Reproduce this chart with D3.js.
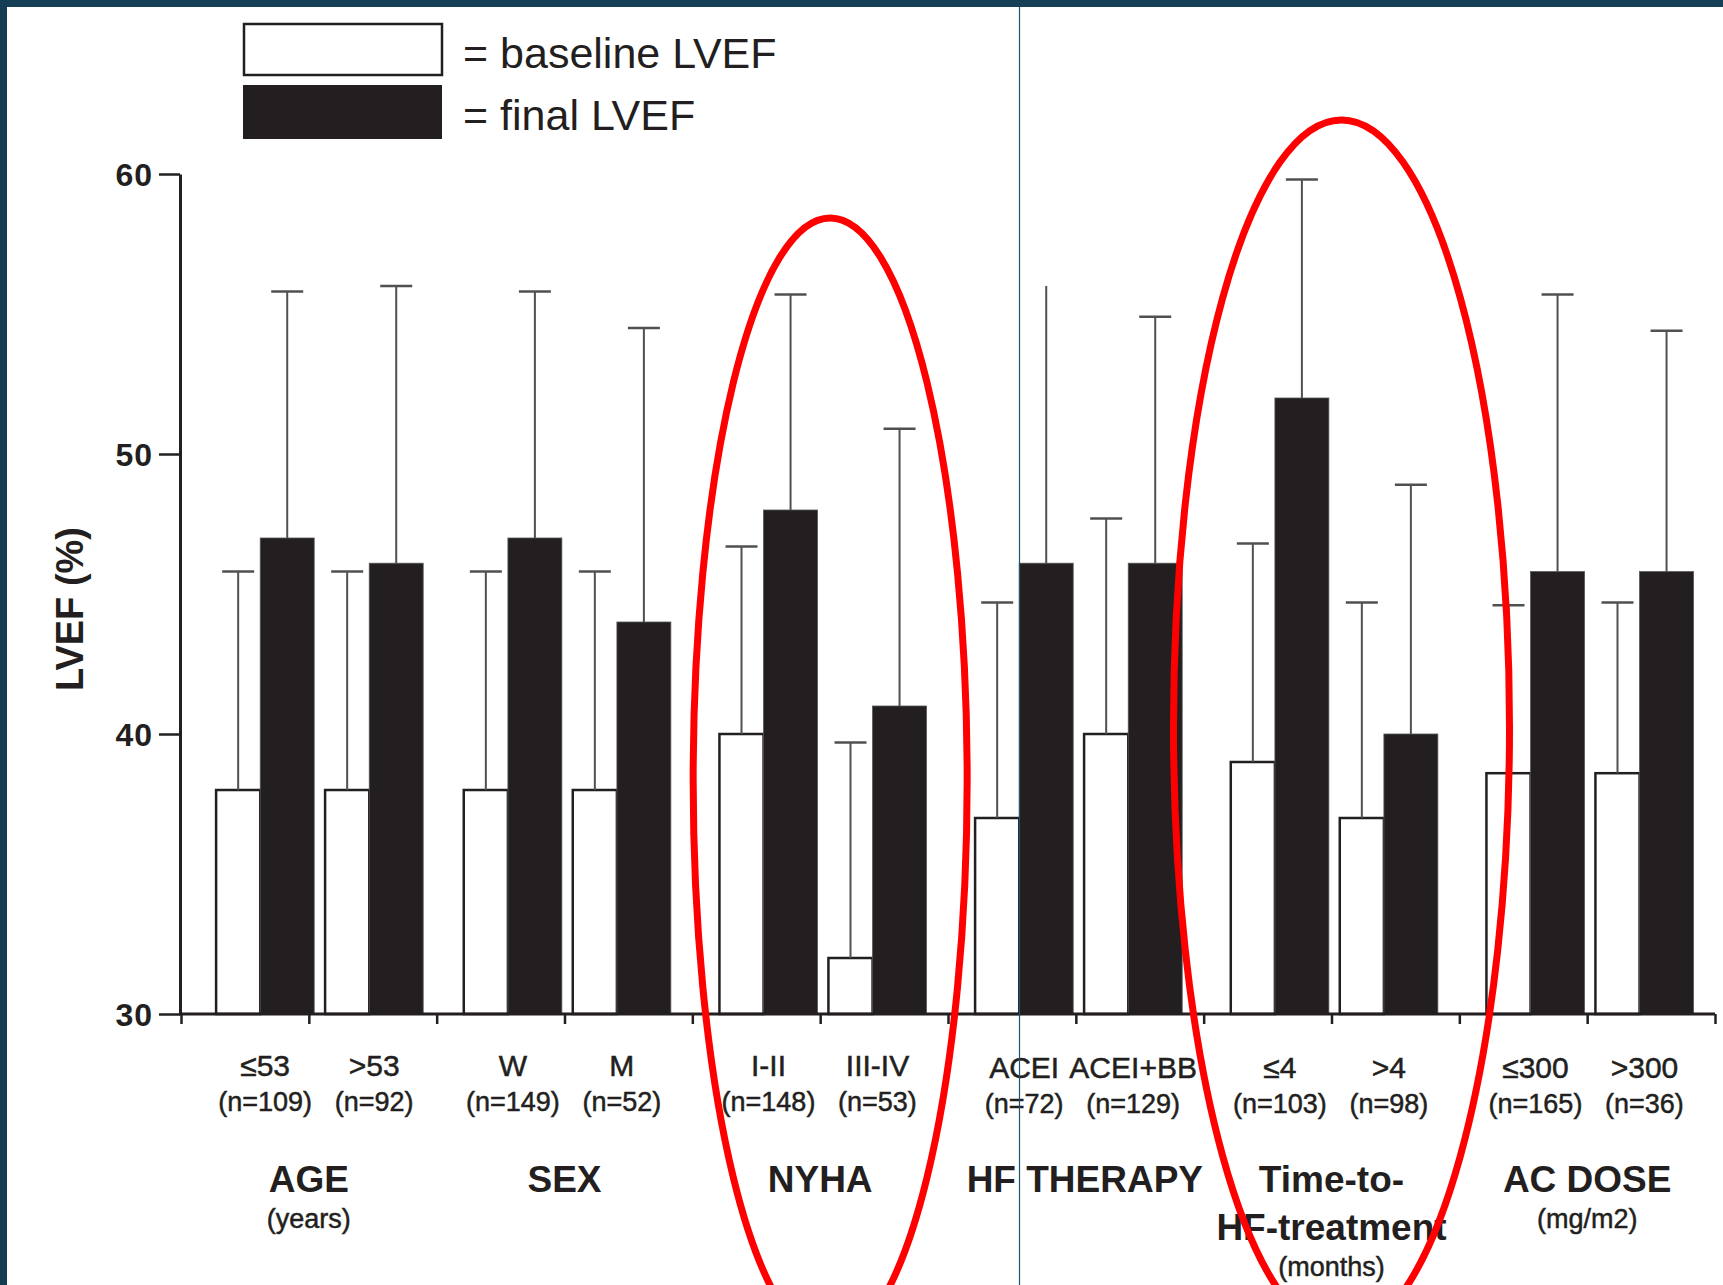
<!DOCTYPE html>
<html>
<head>
<meta charset="utf-8">
<script src="https://cdn.jsdelivr.net/npm/d3@7"></script>
<style>
  html, body { margin: 0; padding: 0; background: #fff; }
  svg { display: block; }
  text { font-family: "Liberation Sans", Arial, Helvetica, sans-serif; }
  .medium { stroke: #231f20; stroke-width: 0.5px; }
</style>
</head>
<body>
<svg id="chart" width="1723" height="1285"></svg>
<script>
// ---- data ----
const groups = ["AGE", "SEX", "NYHA", "HF THERAPY", "Time-to-HF-treatment", "AC DOSE"];
const groupTitleLines = [["AGE"], ["SEX"], ["NYHA"], ["HF THERAPY"], ["Time-to-", "HF-treatment"], ["AC DOSE"]];
const groupUnits = ["(years)", "", "", "", "(months)", "(mg/m2)"];

const categories = ["≤53", ">53", "W", "M", "I-II", "III-IV", "ACEI", "ACEI+BB", "≤4", ">4", "≤300", ">300"];
const sampleSizes = ["(n=109)", "(n=92)", "(n=149)", "(n=52)", "(n=148)", "(n=53)", "(n=72)", "(n=129)", "(n=103)", "(n=98)", "(n=165)", "(n=36)"];
const categoryGroup = [0, 0, 1, 1, 2, 2, 3, 3, 4, 4, 5, 5];

const baselineLVEF = [38, 38, 38, 38, 40, 32, 37, 40, 39, 37, 38.6, 38.6];
const baselineSD   = [7.8, 7.8, 7.8, 7.8, 6.7, 7.7, 7.7, 7.7, 7.8, 7.7, 6.0, 6.1];
const finalLVEF    = [47, 46.1, 47, 44, 48, 41, 46.1, 46.1, 52, 40, 45.8, 45.8];
const finalSD      = [8.8, 9.9, 8.8, 10.5, 7.7, 9.9, 9.9, 8.8, 7.8, 8.9, 9.9, 8.6];
const uncappedFinal = ["ACEI"];          // whisker printed without a cap

const yTicks = [30, 40, 50, 60];
const yLabel = "LVEF (%)";
const legendLabels = ["= baseline LVEF", "= final LVEF"];
const highlightedGroups = ["NYHA", "Time-to-HF-treatment"];

// ---- layout ----
const W = 1723, H = 1285;
const ink = "#231f20";
const whisker = "#505050";
const svg = d3.select("#chart");

svg.append("rect").attr("width", W).attr("height", H).attr("fill", "#fff");

const plot = { left: 181, right: 1715, top: 174, bottom: 1014 };

const y = d3.scaleLinear().domain([30, 60]).range([plot.bottom, plot.top]);
const xGroup = d3.scaleBand().domain(groups).range([plot.left, plot.right]).padding(0);
const gw = xGroup.bandwidth();
const xPair = d3.scaleBand().domain([0, 1]).range([gw * 0.106, gw * 0.916]).paddingInner(0.1);
const pw = xPair.bandwidth();
const whiteW = pw * 0.45, blackW = pw - whiteW;
// the first group sits a little further from the axis
const groupNudge = { "AGE": 8 };
const titleNudge = { "HF THERAPY": 9 };

// slot of each category within its group
const slotCount = {};
const rows = categories.map((c, i) => {
  const g = groups[categoryGroup[i]];
  slotCount[g] = (slotCount[g] || 0);
  const slot = slotCount[g]++;
  const x0 = xGroup(g) + xPair(slot) + (groupNudge[g] || 0);
  return {
    cat: c, n: sampleSizes[i], group: g, x0,
    base: baselineLVEF[i], baseSD: baselineSD[i],
    fin: finalLVEF[i], finSD: finalSD[i]
  };
});

const chart = svg.append("g");

// baseline bars (white)
chart.selectAll("rect.base").data(rows).join("rect")
  .attr("class", "base")
  .attr("x", d => d.x0)
  .attr("y", d => y(d.base))
  .attr("width", whiteW)
  .attr("height", d => y(30) - y(d.base))
  .attr("fill", "#fff")
  .attr("stroke", ink)
  .attr("stroke-width", 2.5);

// final bars (black)
chart.selectAll("rect.fin").data(rows).join("rect")
  .attr("class", "fin")
  .attr("x", d => d.x0 + whiteW)
  .attr("y", d => y(d.fin))
  .attr("width", blackW)
  .attr("height", d => y(30) - y(d.fin))
  .attr("fill", ink)
  .attr("stroke", "#555")
  .attr("stroke-width", 0.8);

// whiskers (mean + SD)
const whiskers = [];
rows.forEach(d => {
  whiskers.push({ cx: d.x0 + whiteW / 2, from: d.base, to: d.base + d.baseSD, cap: true });
  whiskers.push({ cx: d.x0 + whiteW + blackW / 2, from: d.fin, to: d.fin + d.finSD, cap: !uncappedFinal.includes(d.cat) });
});
const wg = chart.append("g");
wg.selectAll("line.stem").data(whiskers).join("line")
  .attr("class", "stem")
  .attr("x1", d => d.cx).attr("x2", d => d.cx)
  .attr("y1", d => y(d.from)).attr("y2", d => y(d.to))
  .attr("stroke", whisker).attr("stroke-width", 2);
wg.selectAll("line.cap").data(whiskers.filter(d => d.cap)).join("line")
  .attr("class", "cap")
  .attr("x1", d => d.cx - 16).attr("x2", d => d.cx + 16)
  .attr("y1", d => y(d.to)).attr("y2", d => y(d.to))
  .attr("stroke", whisker).attr("stroke-width", 2.5);

// x axis: plain ticks at every category boundary
const xTick = d3.scaleLinear().domain([0, categories.length]).range([plot.left, plot.right]);
const xAxis = svg.append("g")
  .attr("transform", `translate(0,${plot.bottom})`)
  .call(d3.axisBottom(xTick).tickValues(d3.range(categories.length + 1)).tickSize(10).tickSizeOuter(0).tickFormat(""));
xAxis.select(".domain").attr("stroke", ink).attr("stroke-width", 3).attr("d", `M${plot.left - 2},0H${plot.right}`);
xAxis.selectAll(".tick line").attr("stroke", ink).attr("stroke-width", 2.5);

// y axis
const yAxis = svg.append("g")
  .attr("transform", `translate(${plot.left - 1},0)`)
  .call(d3.axisLeft(y).tickValues(yTicks).tickSize(21).tickSizeOuter(0).tickPadding(6));
yAxis.select(".domain").attr("stroke", ink).attr("stroke-width", 3);
yAxis.selectAll(".tick line").attr("stroke", ink).attr("stroke-width", 2.5);
yAxis.selectAll(".tick text")
  .attr("fill", ink)
  .style("font-family", "\"Liberation Sans\", Arial, sans-serif")
  .style("font-size", "32px").style("font-weight", "bold")
  .style("letter-spacing", "1px")
  .attr("dy", "0.36em");

svg.append("text")
  .attr("transform", "translate(83,609) rotate(-90)")
  .attr("text-anchor", "middle")
  .attr("fill", ink)
  .style("font-size", "38px").style("font-weight", "bold")
  .text(yLabel);

// category labels
const catG = svg.append("g").attr("fill", ink).attr("text-anchor", "middle");
catG.selectAll("text.cat").data(rows).join("text")
  .attr("class", "cat medium")
  .attr("x", d => d.x0 + pw / 2)
  .attr("y", (d, i) => 1076 + (i >= 6 ? 2 : 0))
  .style("font-size", "30px")
  .text(d => d.cat);
catG.selectAll("text.n").data(rows).join("text")
  .attr("class", "n medium")
  .attr("x", d => d.x0 + pw / 2)
  .attr("y", (d, i) => 1111 + (i >= 6 ? 2 : 0))
  .style("font-size", "27px")
  .text(d => d.n);

// group titles
groups.forEach((g, i) => {
  const cx = xGroup(g) + gw / 2 + (titleNudge[g] || 0);
  const lines = groupTitleLines[i];
  lines.forEach((t, k) => {
    svg.append("text")
      .attr("x", cx).attr("y", 1192 + k * 48)
      .attr("text-anchor", "middle").attr("fill", ink)
      .style("font-size", "37px").style("font-weight", "bold")
      .text(t);
  });
  if (groupUnits[i]) {
    svg.append("text")
      .attr("class", "medium")
      .attr("x", cx).attr("y", 1192 + (lines.length - 1) * 48 + 36)
      .attr("text-anchor", "middle").attr("fill", ink)
      .style("font-size", "27px")
      .text(groupUnits[i]);
  }
});

// legend
const legend = svg.append("g");
legend.append("rect").attr("x", 244).attr("y", 24).attr("width", 198).attr("height", 51)
  .attr("fill", "#fff").attr("stroke", ink).attr("stroke-width", 2.5);
legend.append("rect").attr("x", 243).attr("y", 85).attr("width", 199).attr("height", 54)
  .attr("fill", ink);
legendLabels.forEach((t, i) => {
  legend.append("text")
    .attr("x", 463).attr("y", i === 0 ? 68 : 130)
    .attr("fill", ink)
    .style("font-size", "43px")
    .text(t);
});

// slide frame
svg.append("rect").attr("x", 0).attr("y", 0).attr("width", W).attr("height", 7).attr("fill", "#143f56");
svg.append("rect").attr("x", 0).attr("y", 0).attr("width", 7).attr("height", H).attr("fill", "#123d52");
svg.append("line").attr("x1", 1019.5).attr("x2", 1019.5).attr("y1", 7).attr("y2", H)
  .attr("stroke", "#1d5470").attr("stroke-width", 1.2);

// red highlight rings around the emphasised groups
const ringShape = {
  "NYHA": { dx: 10, cy: 780, rx: 137, ry: 562 },
  "Time-to-HF-treatment": { dx: 10, cy: 727, rx: 168, ry: 607 }
};
svg.selectAll("ellipse.ring").data(highlightedGroups).join("ellipse")
  .attr("class", "ring")
  .attr("cx", g => xGroup(g) + gw / 2 + ringShape[g].dx)
  .attr("cy", g => ringShape[g].cy)
  .attr("rx", g => ringShape[g].rx)
  .attr("ry", g => ringShape[g].ry)
  .attr("fill", "none")
  .attr("stroke", "#ff0000")
  .attr("stroke-width", 7);
</script>
</body>
</html>
